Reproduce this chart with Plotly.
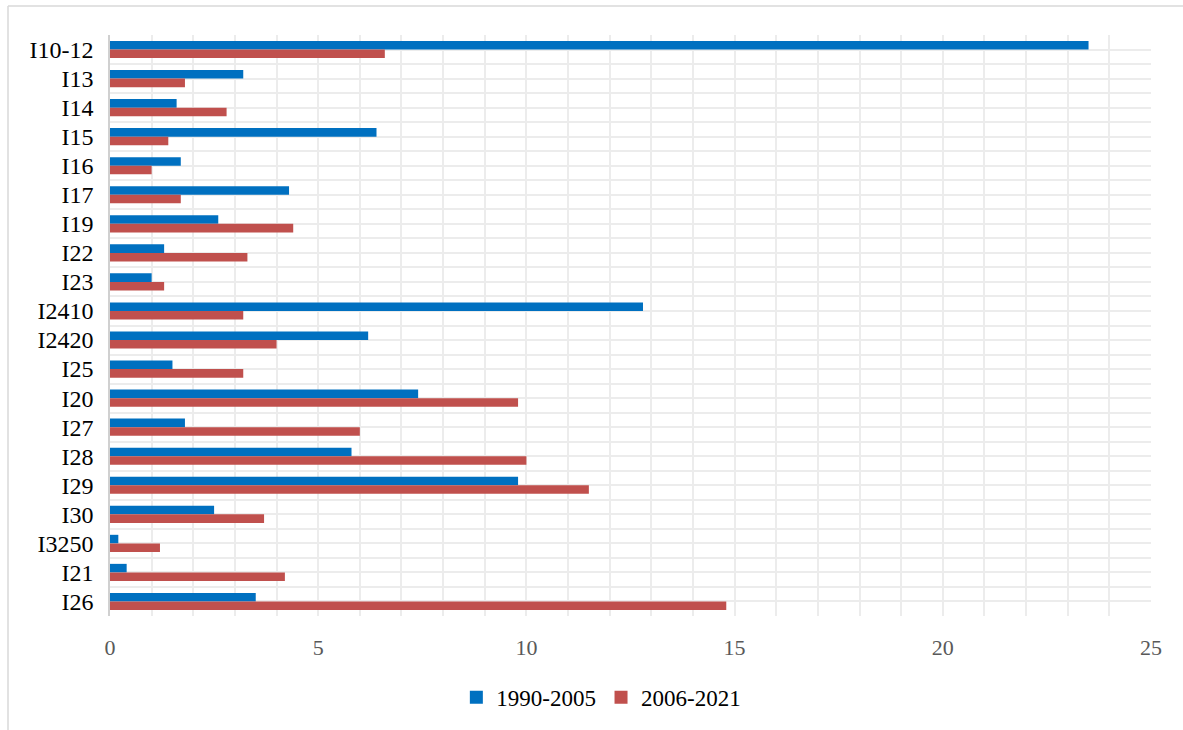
import plotly.graph_objects as go

categories = ["I10-12", "I13", "I14", "I15", "I16", "I17", "I19", "I22", "I23", "I2410",
              "I2420", "I25", "I20", "I27", "I28", "I29", "I30", "I3250", "I21", "I26"]
series_1990_2005 = [23.5, 3.2, 1.6, 6.4, 1.7, 4.3, 2.6, 1.3, 1.0, 12.8,
                    6.2, 1.5, 7.4, 1.8, 5.8, 9.8, 2.5, 0.2, 0.4, 3.5]
series_2006_2021 = [6.6, 1.8, 2.8, 1.4, 1.0, 1.7, 4.4, 3.3, 1.3, 3.2,
                    4.0, 3.2, 9.8, 6.0, 10.0, 11.5, 3.7, 1.2, 4.2, 14.8]
x_ticks = [0, 5, 10, 15, 20, 25]

pos = list(range(len(categories)))
FONT = "Liberation Serif, Times New Roman, serif"
GRID = "#ececec"
BLUE = "#0070C0"
RED = "#C0504D"

fig = go.Figure()
fig.add_trace(go.Bar(y=pos, x=series_1990_2005, orientation="h", name="1990-2005",
                     marker=dict(color=BLUE, line=dict(width=0)), showlegend=False))
fig.add_trace(go.Bar(y=pos, x=series_2006_2021, orientation="h", name="2006-2021",
                     marker=dict(color=RED, line=dict(width=0)), showlegend=False))
# legend entries with larger square swatches
for name, col in [("1990-2005", BLUE), ("2006-2021", RED)]:
    fig.add_trace(go.Scatter(x=[None], y=[None], mode="markers", name=name,
                             marker=dict(symbol="square", size=13, color=col)))

L, R, T, B = 110, 32, 35, 113
fig.update_layout(
    width=1183, height=730,
    margin=dict(l=L, r=R, t=T, b=B),
    paper_bgcolor="white", plot_bgcolor="white",
    barmode="group", bargap=0.41, bargroupgap=0,
    font=dict(family=FONT, color="black"),
    legend=dict(orientation="h", x=0.472, xanchor="center", y=-0.138, yanchor="middle",
                font=dict(size=23, family=FONT, color="black"),
                traceorder="normal", itemwidth=30, tracegroupgap=0),
    xaxis=dict(range=[0, 25], tickvals=x_ticks, showgrid=True, gridcolor=GRID, gridwidth=1.5,
               zeroline=False, showline=False, ticks="", ticklabelstandoff=16,
               tickfont=dict(size=22, family=FONT, color="#595959"),
               minor=dict(dtick=1, tick0=0, showgrid=True, gridcolor=GRID, gridwidth=1.5)),
    yaxis=dict(range=[19.5, -0.5], tickmode="array", tickvals=pos, ticktext=categories,
               showgrid=True, gridcolor=GRID, gridwidth=1.5, zeroline=False,
               showline=True, linecolor="#d0d0d0", linewidth=1.5, ticks="",
               tickfont=dict(size=24, family=FONT, color="black"), ticklabelstandoff=10,
               minor=dict(dtick=0.5, tick0=0.5, showgrid=True, gridcolor=GRID, gridwidth=1.5)),
)

pw = 1183 - L - R
ph = 730 - T - B
left_x = (8 - L) / pw
top_y = (ph + T - 6) / ph
fig.add_shape(type="line", xref="paper", yref="paper", x0=left_x, x1=left_x, y0=top_y, y1=-0.3,
              line=dict(color="#d9d9d9", width=1.5))
fig.add_shape(type="line", xref="paper", yref="paper", x0=left_x, x1=1.1, y0=top_y, y1=top_y,
              line=dict(color="#d9d9d9", width=1.5))

fig.write_html("out.html")
